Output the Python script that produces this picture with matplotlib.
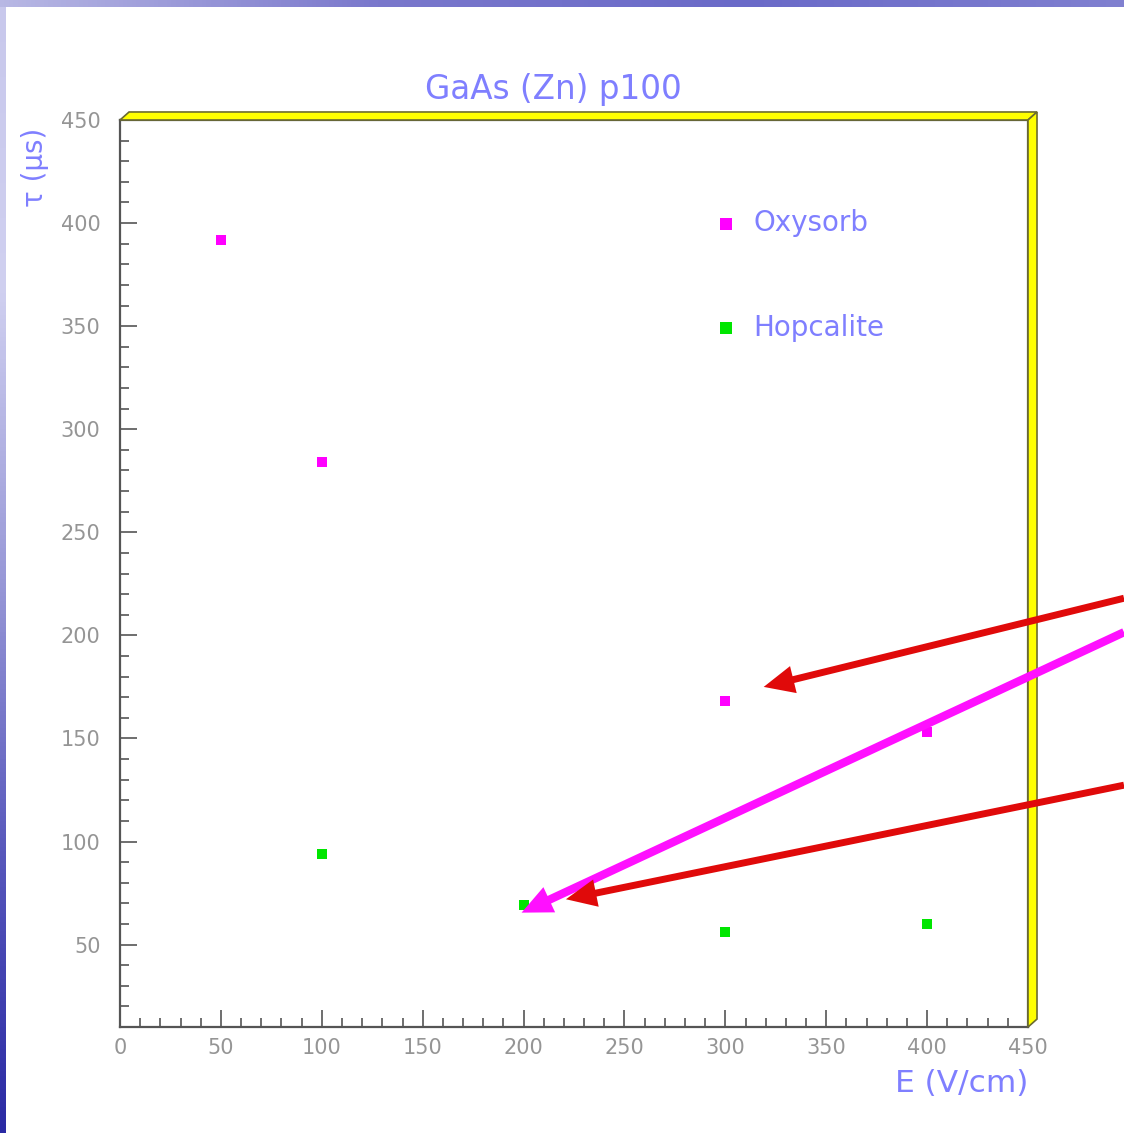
import numpy as np
import matplotlib
matplotlib.use("Agg")
import matplotlib.pyplot as plt
from matplotlib.patches import Polygon

# data
oxy_x = [50, 100, 300, 400]
oxy_y = [392, 284, 168, 153]
hop_x = [100, 200, 300, 400]
hop_y = [94, 69, 56, 60]
series_names = ["Oxysorb", "Hopcalite"]

# arrows: tip in data units, tail in figure fraction (off the right edge)
arrow_tips = [(319, 175), (199, 65.5), (221, 72)]
arrow_tails = [(1.0, 0.472), (1.0, 0.442), (1.0, 0.307)]
arrow_colors = ["#e00a0a", "#ff10ff", "#e00a0a"]
arrow_tailw = [0.5, 0.6, 0.5]

BLUE = "#7f7fff"
GRAY = "#959595"

plt.rcParams["font.family"] = ["DejaVu Sans"]


def main():
    fig = plt.figure(figsize=(11.24, 11.33), dpi=100)

    # slide background: blue bars on top and left
    bg = fig.add_axes([0, 0, 1, 1], zorder=-10)
    bg.set_xlim(0, 1124)
    bg.set_ylim(1133, 0)
    bg.axis("off")
    top = np.linspace(0, 1, 256)[None, :]
    bg.imshow(top, cmap=matplotlib.colors.LinearSegmentedColormap.from_list(
        "t", ["#b8b8e4", "#7a78cc", "#6a6ac8", "#8080d0"]),
        extent=(0, 1124, 7, 0), aspect="auto")
    left = np.linspace(0, 1, 256)[:, None]
    bg.imshow(left, cmap=matplotlib.colors.LinearSegmentedColormap.from_list(
        "l", ["#c8c8ec", "#d0d0f0", "#9a9ad8", "#5858bc", "#2a2aa4"]),
        extent=(0, 6, 1133, 7), aspect="auto")

    ax = fig.add_axes([0.1068, 0.0935, 0.8078, 0.8006])
    ax.scatter(oxy_x, oxy_y, marker="s", s=55, color="#ff00ff", linewidths=0,
               label=series_names[0], zorder=3)
    ax.scatter(hop_x, hop_y, marker="s", s=55, color="#00e600", linewidths=0,
               label=series_names[1], zorder=3)

    ax.set_xlim(0, 450)
    ax.set_ylim(10, 450)
    ax.set_xticks(np.arange(0, 451, 50))
    ax.set_xticks(np.arange(0, 451, 10), minor=True)
    ax.set_yticks(np.arange(50, 451, 50))
    ax.set_yticks(np.arange(10, 451, 10), minor=True)
    ax.tick_params(which="both", direction="in", color="#555555", width=1.2,
                   labelsize=15, labelcolor=GRAY, top=False, right=False)
    ax.tick_params(which="major", length=12)
    ax.tick_params(which="minor", length=6.5)
    ax.tick_params(axis="y", which="major", pad=14)
    ax.tick_params(axis="x", which="major", pad=8)
    for s in ax.spines.values():
        s.set_color("#555555")
        s.set_linewidth(1.6)

    # yellow 3d frame on top and right
    dx, dy = 9 / 908, 8 / 907
    topband = Polygon([(0, 1), (1, 1), (1 + dx, 1 + dy), (dx, 1 + dy)],
                      closed=True, transform=ax.transAxes, clip_on=False,
                      facecolor="#ffff00", edgecolor="#6b6b30", lw=1.2, zorder=4)
    rightband = Polygon([(1, 0), (1 + dx, dy), (1 + dx, 1 + dy), (1, 1)],
                        closed=True, transform=ax.transAxes, clip_on=False,
                        facecolor="#ffff00", edgecolor="#6b6b30", lw=1.2, zorder=4)
    ax.add_patch(topband)
    ax.add_patch(rightband)

    leg = ax.legend(loc="upper left", bbox_to_anchor=(0.644, 0.917),
                    frameon=False, fontsize=20, handlelength=0.5,
                    handletextpad=0.75, labelspacing=2.75, borderpad=0,
                    markerscale=1.25)
    for t in leg.get_texts():
        t.set_color(BLUE)

    fig.text(0.492, 0.9214, "GaAs (Zn) p100", color=BLUE, fontsize=23.5,
             ha="center", va="center")
    fig.text(0.9146, 0.044, "E (V/cm)", color=BLUE, fontsize=22.5,
             ha="right", va="center")
    fig.text(0.031, 0.8526, "τ (μs)", color=BLUE, fontsize=20,
             ha="center", va="center", rotation=90)

    for tip, tail, c, tw in zip(arrow_tips, arrow_tails, arrow_colors, arrow_tailw):
        ax.annotate("", xy=tip, xycoords="data", xytext=tail,
                    textcoords="figure fraction", annotation_clip=False,
                    arrowprops=dict(arrowstyle=f"simple,head_length=2.2,head_width=2.0,tail_width={tw}",
                                    color=c, lw=0, shrinkA=0, shrinkB=0,
                                    mutation_scale=10),
                    zorder=6)

    fig.savefig("out.png", dpi=100, facecolor="white")


if __name__ == "__main__":
    main()
